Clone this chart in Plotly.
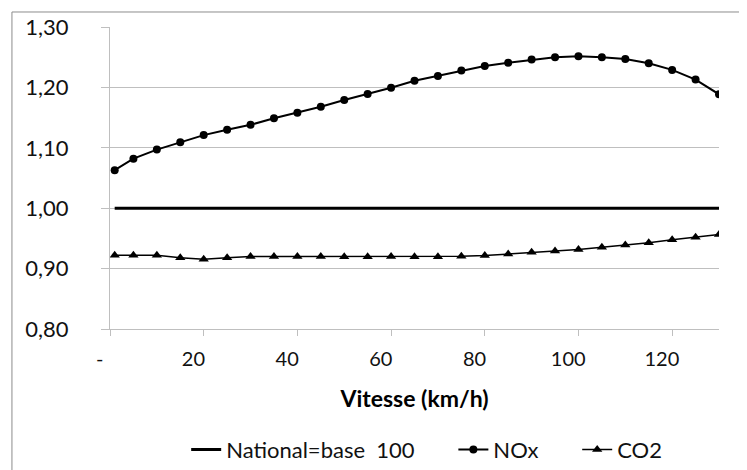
import plotly.graph_objects as go

vitesse = [1, 5, 10, 15, 20, 25, 30, 35, 40, 45, 50, 55, 60, 65, 70, 75, 80, 85, 90, 95, 100, 105, 110, 115, 120, 125, 130]
national = [1.00] * len(vitesse)
nox = [1.063, 1.082, 1.097, 1.109, 1.121, 1.130, 1.138, 1.149, 1.158, 1.168, 1.179, 1.189, 1.1995,
       1.211, 1.219, 1.228, 1.2355, 1.241, 1.246, 1.250, 1.2516, 1.250, 1.247, 1.240, 1.229, 1.213, 1.1886]
co2 = [0.922, 0.922, 0.922, 0.918, 0.9155, 0.918, 0.920, 0.920, 0.920, 0.920, 0.9195, 0.9195, 0.920,
       0.9195, 0.9195, 0.9205, 0.9216, 0.924, 0.927, 0.929, 0.9316, 0.9355, 0.939, 0.943, 0.9477, 0.952, 0.9566]

x_tickvals = [0, 20, 40, 60, 80, 100, 120]
x_ticktext = ["-", "20", "40", "60", "80", "100", "120"]
y_tickvals = [0.8, 0.9, 1.0, 1.1, 1.2, 1.3]
series_names = ["National=base 100", "NOx", "CO2"]

NB = "\u00a0"
x_ticktext_padded = [t + NB * 4 for t in x_ticktext]
legend_names = [series_names[0].replace(" ", NB * 2) + NB * 6, series_names[1] + NB * 6, series_names[2]]

FONT = "Lato, 'Liberation Sans', sans-serif"
GRID = "#bfbfbf"
TXT = "#111111"

fig = go.Figure()
fig.add_trace(go.Scatter(x=vitesse, y=national, mode="lines", name=legend_names[0],
                         line=dict(color="black", width=3)))
fig.add_trace(go.Scatter(x=vitesse, y=nox, mode="lines+markers", name=legend_names[1],
                         line=dict(color="black", width=2),
                         marker=dict(symbol="circle", size=8, color="black")))
fig.add_trace(go.Scatter(x=vitesse, y=co2, mode="lines+markers", name=legend_names[2],
                         line=dict(color="black", width=1.5),
                         marker=dict(symbol="triangle-up", size=9, color="black")))

fig.update_layout(
    width=739, height=462,
    margin=dict(l=102, r=28, t=19, b=141, autoexpand=False),
    paper_bgcolor="white", plot_bgcolor="white",
    separators=", ",
    font=dict(family=FONT, color=TXT),
    showlegend=True,
    legend=dict(orientation="h", x=0.52, xanchor="center", y=-0.40, yanchor="middle",
                font=dict(size=22, color=TXT), itemwidth=30, bgcolor="rgba(0,0,0,0)"),
    shapes=[dict(type="rect", xref="paper", yref="paper", x0=-0.161, x1=1.2, y0=-0.7, y1=1.0497,
                 line=dict(color="#8c8c8c", width=1), fillcolor="rgba(0,0,0,0)", layer="below")],
)

fig.update_xaxes(
    range=[0, 130], tickvals=x_tickvals, ticktext=x_ticktext_padded,
    showgrid=False, showline=True, linecolor=GRID, linewidth=1,
    ticks="outside", ticklen=6, tickcolor=GRID, tickfont=dict(size=20, color=TXT),
    ticklabelstandoff=6, zeroline=False,
    title=dict(text="<b>Vitesse (km/h)</b>", font=dict(size=23, color="black"), standoff=21),
)
fig.update_yaxes(
    range=[0.8, 1.3], tickvals=y_tickvals, tickformat=".2f",
    showgrid=True, gridcolor=GRID, gridwidth=1,
    showline=True, linecolor=GRID, linewidth=1,
    ticks="outside", ticklen=8, tickcolor=GRID, tickfont=dict(size=22, color=TXT),
    ticklabelstandoff=28, zeroline=False,
)

fig.write_html("out.html")
